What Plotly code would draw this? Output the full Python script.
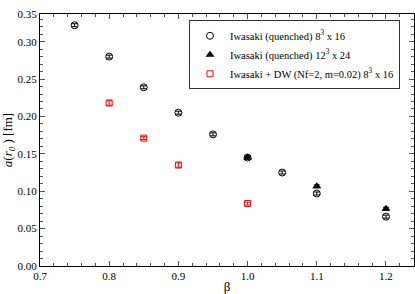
import plotly.graph_objects as go

# Data
beta_q8 = [0.75, 0.80, 0.85, 0.90, 0.95, 1.00, 1.05, 1.10, 1.20]
a_q8 = [0.322, 0.280, 0.239, 0.205, 0.176, 0.145, 0.125, 0.097, 0.066]
err_q8 = [0.002, 0.002, 0.002, 0.002, 0.002, 0.002, 0.002, 0.002, 0.002]

beta_q12 = [1.00, 1.10, 1.20]
a_q12 = [0.145, 0.1065, 0.0766]
err_q12 = [0.002, 0.002, 0.002]

beta_dw = [0.80, 0.85, 0.90, 1.00]
a_dw = [0.218, 0.171, 0.135, 0.0835]
err_dw = [0.003, 0.002, 0.003, 0.002]

names = [
    "Iwasaki (quenched) 8<sup>3</sup> x 16",
    "Iwasaki (quenched) 12<sup>3</sup> x 24",
    "Iwasaki + DW (Nf=2, m=0.02) 8<sup>3</sup> x 16",
]

y_tickvals = [0.0, 0.05, 0.10, 0.15, 0.20, 0.25, 0.30, 0.337]
y_ticktext = ["0.00", "0.05", "0.10", "0.15", "0.20", "0.25", "0.30", "0.35"]
x_tickvals = [0.7, 0.8, 0.9, 1.0, 1.1, 1.2]
x_ticktext = ["0.7", "0.8", "0.9", "1.0", "1.1", "1.2"]

FONT = "Liberation Serif, Times New Roman, Times, serif"

fig = go.Figure()
fig.add_trace(go.Scatter(
    x=beta_q8, y=a_q8, mode="markers", name=names[0],
    marker=dict(symbol="circle-open", size=7, color="black", line=dict(width=1)),
    error_y=dict(type="data", array=err_q8, color="black", thickness=1, width=3),
))
fig.add_trace(go.Scatter(
    x=beta_q12, y=a_q12, mode="markers", name=names[1],
    marker=dict(symbol="triangle-up", size=8, color="black"),
    error_y=dict(type="data", array=err_q12, color="black", thickness=1, width=3),
))
fig.add_trace(go.Scatter(
    x=beta_dw, y=a_dw, mode="markers", name=names[2],
    marker=dict(symbol="square-open", size=6, color="red", line=dict(width=1)),
    error_y=dict(type="data", array=err_dw, color="red", thickness=1, width=3),
))

axis_common = dict(
    showgrid=False, zeroline=False, showline=True, linecolor="black", linewidth=1,
    mirror="allticks", ticks="inside", ticklen=5, tickcolor="#555",
    tickfont=dict(family=FONT, size=11, color="black"),
)

fig.update_xaxes(
    range=[0.7, 1.2405], tickvals=x_tickvals, ticktext=x_ticktext,
    minor=dict(dtick=0.02, tick0=0.7, ticks="inside", ticklen=3, tickcolor="#555"),
    title=dict(text="β", font=dict(family=FONT, size=13, color="black"), standoff=2),
    **axis_common,
)
fig.update_yaxes(
    range=[0, 0.337], tickvals=y_tickvals, ticktext=y_ticktext,
    minor=dict(dtick=0.01, tick0=0, ticks="inside", ticklen=3, tickcolor="#555"),
    title=dict(text="<i>a</i>(<i>r</i><sub><i>0</i></sub> ) [fm]",
               font=dict(family=FONT, size=13, color="black"), standoff=4),
    **axis_common,
)

fig.update_layout(
    width=415, height=294,
    margin=dict(l=40, r=1, t=14, b=28),
    paper_bgcolor="white", plot_bgcolor="white",
    font=dict(family=FONT, size=11, color="black"),
    showlegend=True,
    legend=dict(
        x=0.9626, y=0.975, xanchor="right", yanchor="top",
        bgcolor="white", bordercolor="#333", borderwidth=1,
        font=dict(family=FONT, size=10.5, color="black"),
        itemwidth=30, tracegroupgap=0,
    ),
)

fig.write_html(
    "out.html",
    config={"displayModeBar": False},
    post_script="document.body.style.margin='0px';",
)
